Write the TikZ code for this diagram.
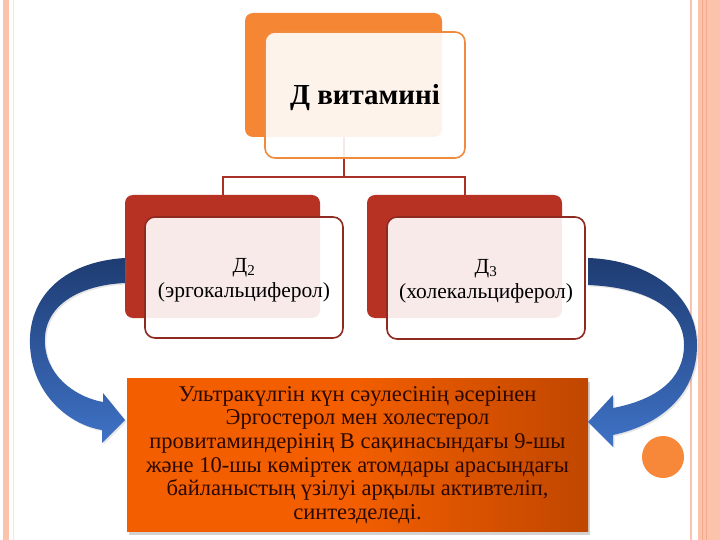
\documentclass[tikz,border=0pt]{standalone}
\usepackage{fontspec}
\setmainfont{Liberation Serif}
\usetikzlibrary{shadows}
\definecolor{topor}{HTML}{F58634}
\definecolor{topedge}{HTML}{F08A3C}
\definecolor{redback}{HTML}{B83224}
\definecolor{rededge}{HTML}{8E2A20}
\definecolor{linkred}{HTML}{A83228}
\definecolor{blueD}{HTML}{1E3C72}
\definecolor{blueL}{HTML}{3F72C6}
\definecolor{salmon}{HTML}{FBC3AC}
\definecolor{salmonD}{HTML}{F4A98C}
\definecolor{salmonL}{HTML}{FCE3D6}
\definecolor{dotor}{HTML}{F7883A}
\definecolor{boxA}{HTML}{D05000}
\definecolor{boxB}{HTML}{F25E00}
\definecolor{boxC}{HTML}{B24000}
\definecolor{boxD}{HTML}{842B00}
\definecolor{boxtext}{HTML}{2A0800}
\pgfdeclarehorizontalshading{boxshade}{100bp}{color(0bp)=(boxA); color(10bp)=(boxB); color(50bp)=(boxB); color(82bp)=(boxC); color(100bp)=(boxD)}
\tikzset{
  backbox/.style={rectangle, rounded corners=8pt, inner sep=0pt},
  frontbox/.style={rectangle, rounded corners=10pt, draw, line width=1.6pt,
    fill=white, fill opacity=0.9, text opacity=1, inner sep=0pt},
  boxlabel/.style={align=center, text opacity=1, fill opacity=1, yshift=-3pt},
  link/.style={draw=linkred, line width=2pt},
  bluearrow/.style={top color=blueD, bottom color=blueL, draw=none},
  childtext/.style={font=\fontsize{21.5}{25}\selectfont},
}
\begin{document}
\begin{tikzpicture}[x=1pt,y=-1pt]
\useasboundingbox (0,0) rectangle (720,540);
\fill[white] (0,0) rectangle (720,540);
% page borders
\fill[salmon] (3,0) rectangle (9,540);
\draw[salmonL, line width=1pt] (13,0) -- (13,540);
\draw[salmon, line width=2pt] (691,0) -- (691,540);
\fill[salmon] (698,0) rectangle (720,540);
\draw[salmonD, line width=0.8pt] (702,0) -- (702,540);
\draw[salmonD, line width=0.8pt] (706,0) -- (706,540);
% decorative dot
\node[circle, fill=dotor, minimum size=42pt, inner sep=0pt] (dot) at (663,457) {};

% back boxes
\node[backbox, fill=topor, minimum width=197pt, minimum height=124pt] (topback) at (343.5,75) {};
\node[backbox, fill=redback, minimum width=195pt, minimum height=123pt] (leftback) at (222.5,256.5) {};
\node[backbox, fill=redback, minimum width=195pt, minimum height=123pt] (rightback) at (464.5,256.5) {};

% connectors
\coordinate (bus) at (343.5,177);
\draw[link] (topback.south) -- (bus);
\draw[link] (leftback.north) |- (bus) -| (rightback.north);

% front boxes
\node[frontbox, draw=topedge, minimum width=200pt, minimum height=126pt,
  label={[boxlabel, font=\fontsize{29}{32}\selectfont\bfseries]center:Д витамині}] (topfront) at (365,95) {};
\node[frontbox, draw=rededge, minimum width=198pt, minimum height=121pt,
  label={[boxlabel, childtext]center:Д\textsubscript{2}\\(эргокальциферол)}] (leftfront) at (244,277.5) {};
\node[frontbox, draw=rededge, minimum width=198pt, minimum height=122pt,
  label={[boxlabel, childtext]center:Д\textsubscript{3}\\(холекальциферол)}] (rightfront) at (486,278) {};

% bottom box
\node[rectangle, minimum width=461pt, minimum height=153pt, inner sep=0pt,
  shading=boxshade,
  drop shadow={shadow xshift=2pt, shadow yshift=-3pt, opacity=0.35},
  text=boxtext, align=center, font=\fontsize{22.5}{23.6}\selectfont] (bottom) at (357.5,455)
  {Ультракүлгін күн сәулесінің әсерінен\\
   Эргостерол мен холестерол\\
   провитаминдерінің В сақинасындағы 9-шы\\
   және 10-шы көміртек атомдары арасындағы\\
   байланыстың үзілуі арқылы активтеліп,\\
   синтезделеді.};

% blue curved arrows
\path[bluearrow, drop shadow={shadow xshift=1.5pt, shadow yshift=-1.5pt, opacity=0.2}]
  (125,258) .. controls (60,262) and (28,300) .. (30,345)
  .. controls (32,395) and (70,425) .. (102,430)
  -- (102,443) -- (125,420) -- (103,393) -- (103,402)
  .. controls (80,398) and (48,380) .. (45,345)
  .. controls (42,305) and (80,285) .. (125,283) -- cycle;
\path[bluearrow, drop shadow={shadow xshift=1.5pt, shadow yshift=-1.5pt, opacity=0.2}]
  (588,258) .. controls (650,260) and (697,295) .. (697,345)
  .. controls (697,395) and (660,425) .. (613,435)
  -- (613,447) -- (588,422) -- (613,395) -- (613,408)
  .. controls (655,400) and (684,380) .. (684,345)
  .. controls (684,305) and (640,287) .. (588,285) -- cycle;
\end{tikzpicture}
\end{document}
